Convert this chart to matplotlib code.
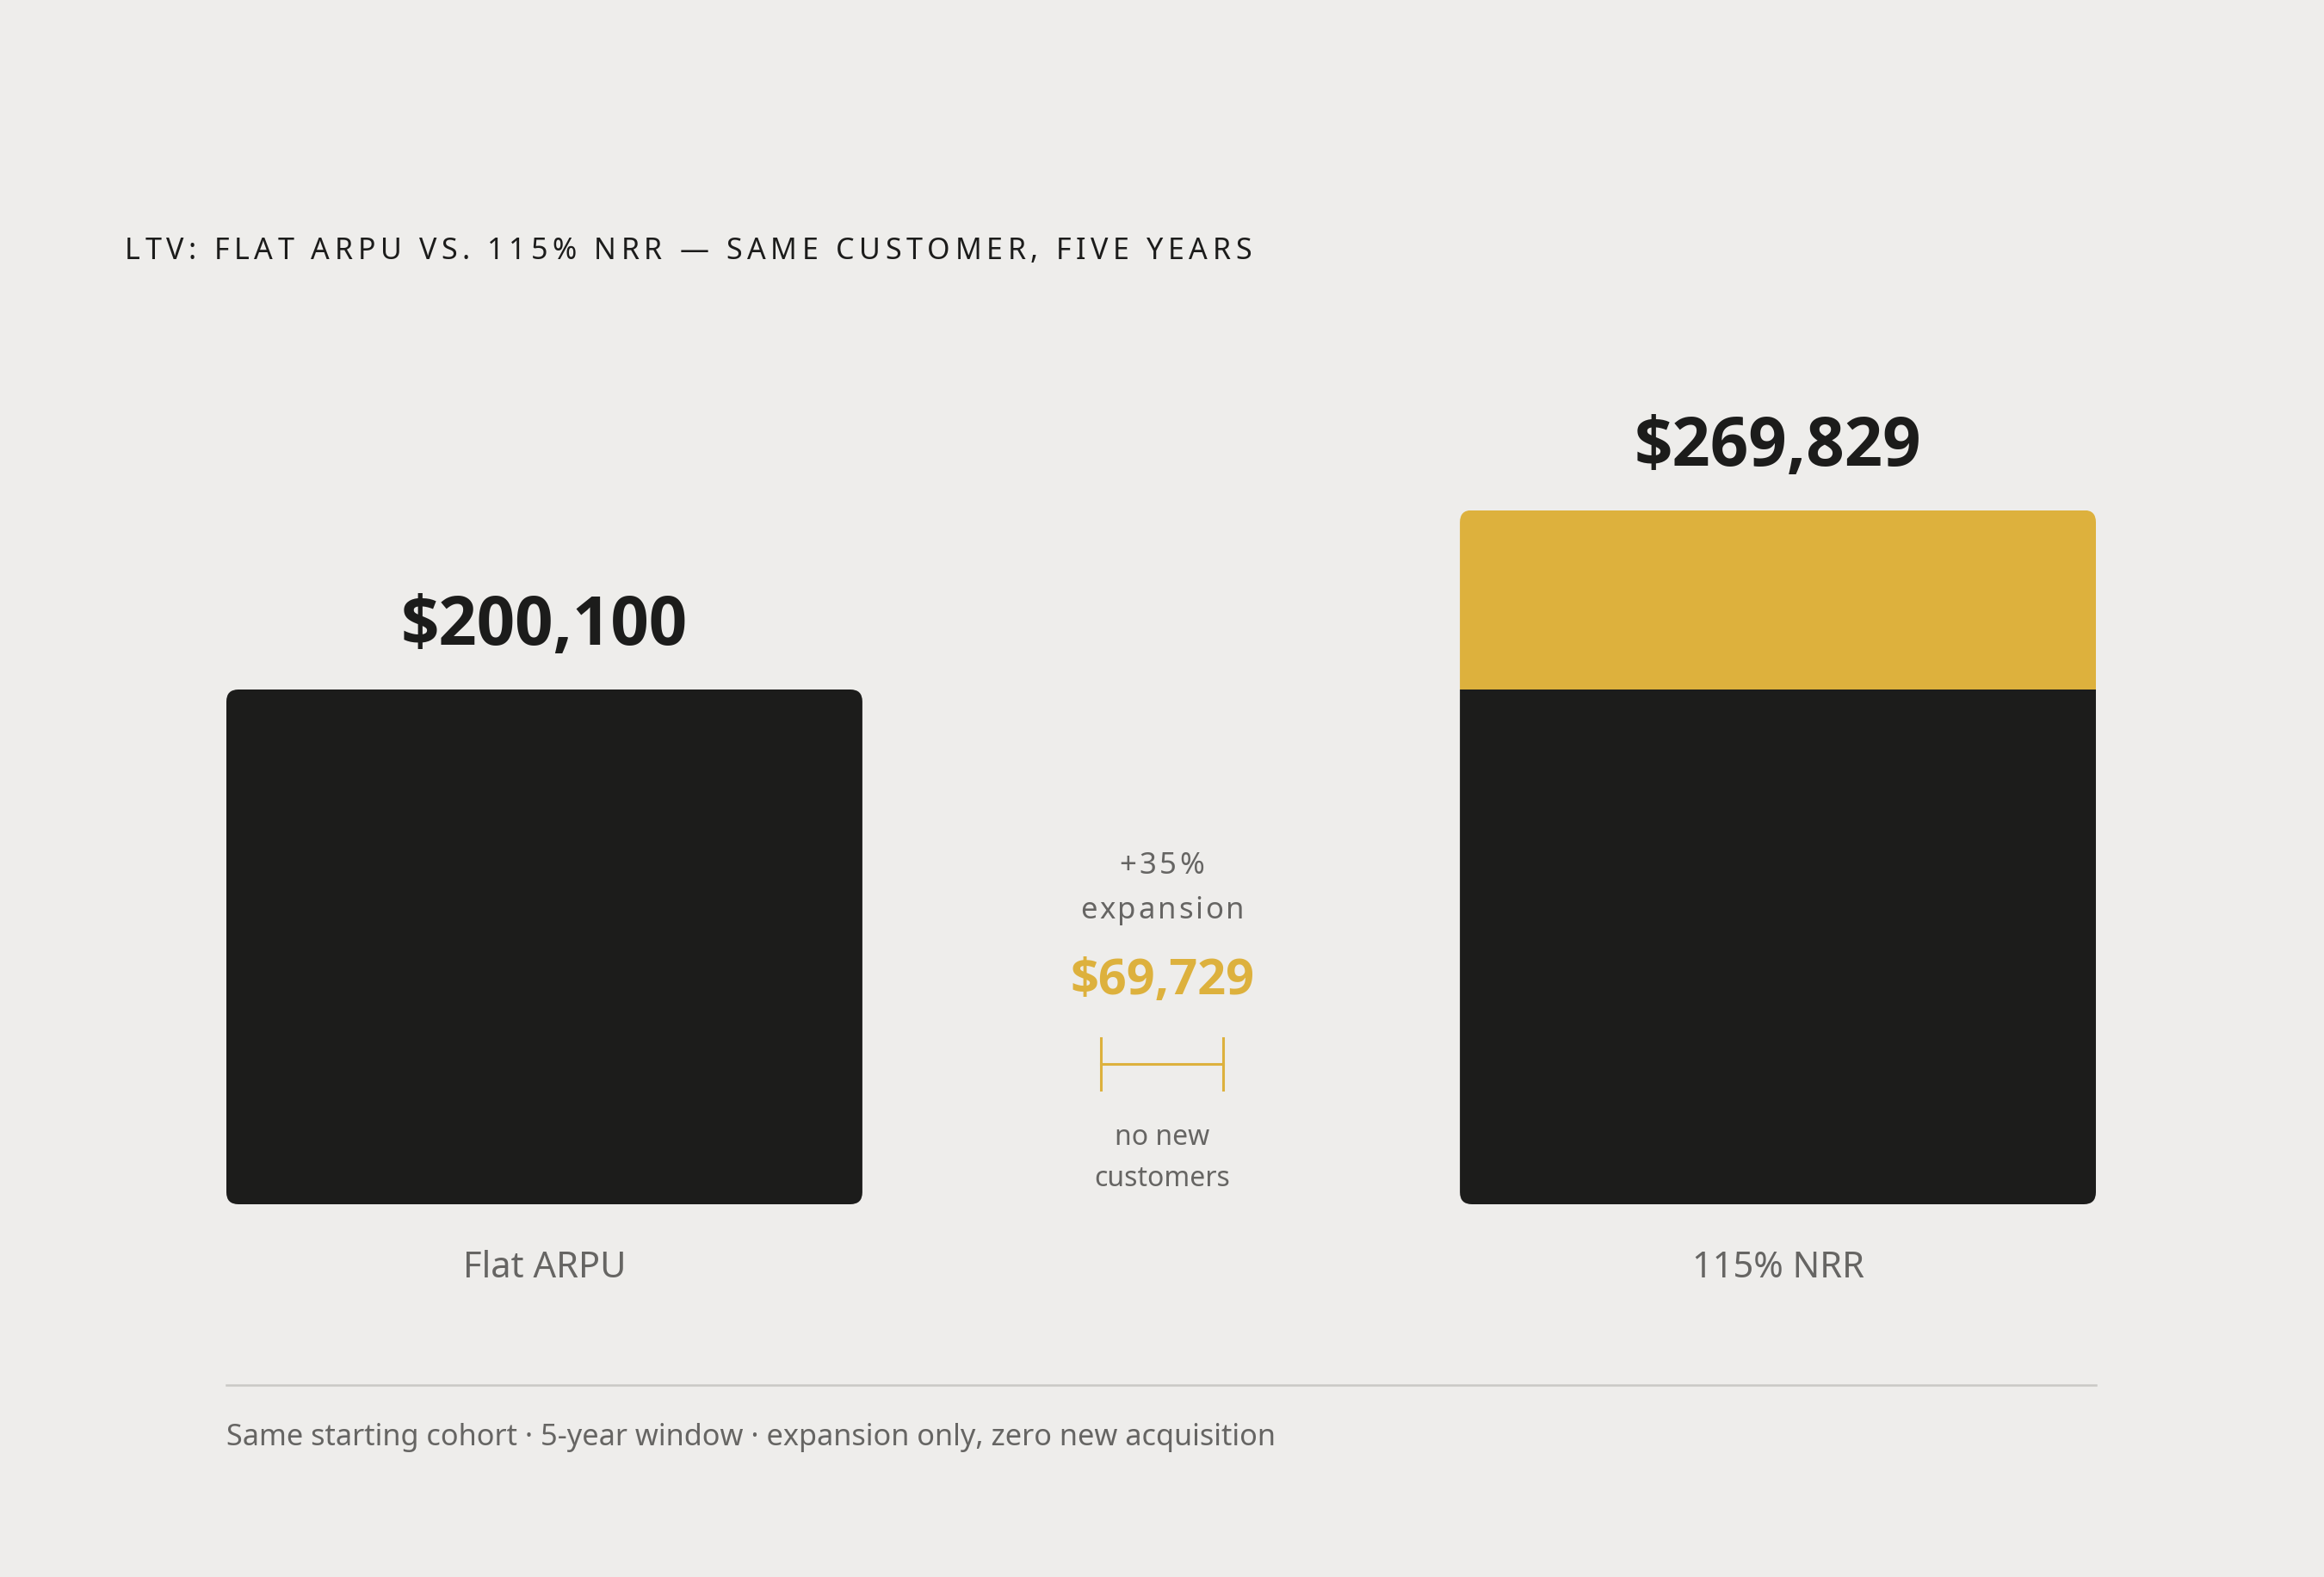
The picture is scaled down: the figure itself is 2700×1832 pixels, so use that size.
import matplotlib
matplotlib.use('Agg')
import matplotlib.pyplot as plt
from matplotlib.patches import FancyBboxPatch
from matplotlib.lines import Line2D
from matplotlib.font_manager import FontProperties

# 데이터
categories = ['Flat ARPU', '115% NRR']
base_values = [200100, 200100]
expansion_values = [0, 69729]
totals = [200100, 269829]
value_labels = ['$200,100', '$269,829']
title = 'LTV: FLAT ARPU VS. 115% NRR \u2014 SAME CUSTOMER, FIVE YEARS'
footnote = 'Same starting cohort \u00b7 5-year window \u00b7 expansion only, zero new acquisition'
mid_pct = '+35%'
mid_word = 'expansion'
mid_value = '$69,729'
mid_note = ['no new', 'customers']

BG = '#EEEDEB'
DARK = '#1C1C1B'
GOLD = '#DDB13D'
GREY = '#666563'
FONT = 'Noto Sans'
BOLD_FONT = ['Open Sans', 'Lato', 'DejaVu Sans']

W, H = 2700, 1833
fig = plt.figure(figsize=(W / 100, H / 100), dpi=100, facecolor=BG)
plt.rcParams['font.family'] = [FONT, 'DejaVu Sans']

# 축: 막대 바닥 = 433px, 좌우 263..2435px
ax = fig.add_axes([263 / W, 433 / H, (2435 - 263) / W, 900 / H])
ax.set_facecolor('none')
bw = 0.5156
ax.set_xlim(-bw / 2, 1 + bw / 2)
ax.set_ylim(0, 301150)
ax.axis('off')

x = [0, 1]
b1 = ax.bar(x, base_values, width=bw, color=DARK, linewidth=0)
b2 = ax.bar(x, expansion_values, width=bw, bottom=base_values, color=GOLD, linewidth=0)

# 둥근 모서리 (clip path)
fig.canvas.draw()
px_x = ax.transData.transform([(0, 0), (1, 0)])
px_y = ax.transData.transform([(0, 0), (0, 100000)])
ux = 1 / (px_x[1][0] - px_x[0][0])         # data per px (x)
uy = 100000 / (px_y[1][1] - px_y[0][1])    # data per px (y)
r_px = 14
for i in range(2):
    clip = FancyBboxPatch((x[i] - bw / 2, 0), bw, totals[i],
                          boxstyle='round,pad=0,rounding_size=%f' % (r_px * ux),
                          mutation_aspect=uy / ux,
                          facecolor='none', edgecolor='none', transform=ax.transData)
    ax.add_patch(clip)
    b1[i].set_clip_path(clip)
    b2[i].set_clip_path(clip)

# 값 라벨, 카테고리 라벨
for i in range(2):
    ax.annotate(value_labels[i], (x[i], totals[i]), xytext=(0, 38), textcoords='offset points',
                ha='center', va='baseline', fontsize=56, fontweight='bold', color=DARK,
                family=BOLD_FONT)
    ax.annotate(categories[i], (x[i], 0), xytext=(0, -60.5), textcoords='offset points',
                ha='center', va='baseline', fontsize=30, color=GREY)

renderer = fig.canvas.get_renderer()


def spaced_text(xp, yp, s, size, spacing, ha='left', **kw):
    prop = FontProperties(family=FONT, size=size)
    ref = renderer.get_text_width_height_descent('||', prop, ismath=False)[0]
    widths = [renderer.get_text_width_height_descent('|' + c + '|', prop, ismath=False)[0] - ref
              for c in s]
    gap = spacing * size * 100 / 72
    total = sum(widths) + gap * (len(s) - 1)
    cx = xp - total / 2 if ha == 'center' else xp
    for c, w in zip(s, widths):
        fig.text(cx / W, yp, c, ha='left', va='baseline', fontsize=size, **kw)
        cx += w + gap


# 제목
spaced_text(145, 0.8358, title, 24.5, 0.165, color=DARK)

# 가운데 주석
spaced_text(1350, 0.4463, mid_pct, 25, 0.1, ha='center', color=GREY)
spaced_text(1350, 0.4179, mid_word, 25, 0.08, ha='center', color=GREY)
fig.text(0.5, 0.3699, mid_value, ha='center', va='baseline', fontsize=41.5,
         fontweight='bold', color=GOLD, family=BOLD_FONT)
fig.text(0.5, 0.2744, mid_note[0], ha='center', va='baseline', fontsize=23, color=GREY)
fig.text(0.5, 0.2482, mid_note[1], ha='center', va='baseline', fontsize=23, color=GREY)

# 브래킷
yb = 1 - 1237 / H
fig.add_artist(Line2D([1279 / W, 1421 / W], [yb, yb], color=GOLD, lw=2.2))
for xb in (1279 / W, 1421 / W):
    fig.add_artist(Line2D([xb, xb], [1 - 1207 / H, 1 - 1267 / H], color=GOLD, lw=2.2))

# 구분선 + 각주
fig.add_artist(Line2D([263 / W, 2435 / W], [1 - 1610 / H] * 2, color='#C9C8C5', lw=1.8))
fig.text(263 / W, 0.0840, footnote, ha='left', va='baseline', fontsize=24.7, color=GREY)

fig.savefig('out.png', dpi=100, facecolor=BG)
